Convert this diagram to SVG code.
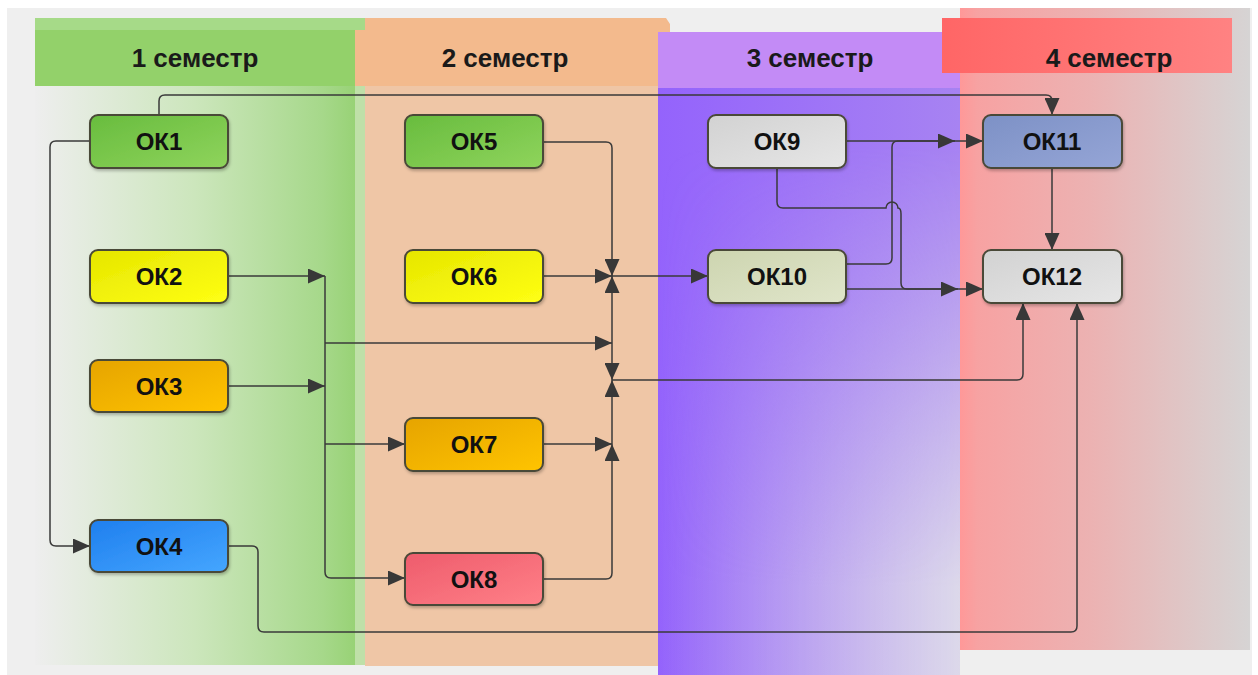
<svg xmlns="http://www.w3.org/2000/svg" width="1258" height="675" viewBox="0 0 1258 675">
<style>
.hdr{font-family:"Liberation Sans",Arial,sans-serif;font-weight:bold;font-size:26px;fill:#1a1a1a;text-anchor:middle}
.lbl{font-family:"Liberation Sans",Arial,sans-serif;font-weight:bold;font-size:24px;fill:#111;text-anchor:middle}
.box{stroke:#4a4838;stroke-width:2;filter:url(#sh)}
.c{fill:none;stroke:#3a3a3a;stroke-width:1.5}
.a{marker-end:url(#ar)}
.b{marker-start:url(#ar);marker-end:url(#ar)}
</style>
<defs>
<marker id="ar" viewBox="0 0 17 15" markerWidth="17" markerHeight="15" refX="17" refY="7.5" orient="auto-start-reverse" markerUnits="userSpaceOnUse">
<path d="M0,0 L17,7.5 L0,15 z" fill="#383838"/>
</marker>
<filter id="sh" x="-10%" y="-20%" width="130%" height="150%">
<feDropShadow dx="1" dy="2" stdDeviation="1.5" flood-color="#000" flood-opacity="0.25"/>
</filter>
<linearGradient id="g1body" x1="0" y1="0" x2="1" y2="0">
<stop offset="0" stop-color="#eeeeee"/>
<stop offset="0.5" stop-color="#cce6bc"/>
<stop offset="0.9" stop-color="#a6d88a"/>
<stop offset="1" stop-color="#98d276"/>
</linearGradient>
<linearGradient id="g3body" x1="0" y1="0" x2="1" y2="0">
<stop offset="0" stop-color="#9463fc"/>
<stop offset="1" stop-color="#a783f2"/>
</linearGradient>
<linearGradient id="g3fade" x1="0" y1="0" x2="1" y2="0">
<stop offset="0" stop-color="#dcd8ea" stop-opacity="0"/>
<stop offset="0.35" stop-color="#dcd8ea" stop-opacity="0.35"/>
<stop offset="1" stop-color="#dcd8ea" stop-opacity="1"/>
</linearGradient>
<linearGradient id="g3mask" x1="0" y1="0" x2="0" y2="1">
<stop offset="0.1" stop-color="#000"/>
<stop offset="0.85" stop-color="#fff"/>
</linearGradient>
<mask id="m3" maskUnits="userSpaceOnUse" x="658" y="86" width="302" height="589">
<rect x="658" y="86" width="302" height="589" fill="url(#g3mask)"/>
</mask>
<linearGradient id="g4body" x1="0" y1="0" x2="1" y2="0">
<stop offset="0" stop-color="#ff9898"/>
<stop offset="0.06" stop-color="#f7a2a2"/>
<stop offset="0.45" stop-color="#ecb2b2"/>
<stop offset="1" stop-color="#d6d4d4"/>
</linearGradient>
<linearGradient id="g4hdr" x1="0" y1="0" x2="1" y2="0">
<stop offset="0" stop-color="#ff6666"/>
<stop offset="1" stop-color="#ff8282"/>
</linearGradient>
<linearGradient id="ngreen" x1="0" y1="0" x2="1" y2="1">
<stop offset="0" stop-color="#68bc3e"/><stop offset="1" stop-color="#8fd45c"/>
</linearGradient>
<linearGradient id="nyellow" x1="0" y1="0" x2="1" y2="1">
<stop offset="0" stop-color="#e6e600"/><stop offset="1" stop-color="#ffff14"/>
</linearGradient>
<linearGradient id="norange" x1="0" y1="0" x2="1" y2="1">
<stop offset="0" stop-color="#e6a400"/><stop offset="1" stop-color="#ffc400"/>
</linearGradient>
<linearGradient id="nblue" x1="0" y1="0" x2="1" y2="1">
<stop offset="0" stop-color="#1f7fee"/><stop offset="1" stop-color="#45a6ff"/>
</linearGradient>
<linearGradient id="nred" x1="0" y1="0" x2="1" y2="1">
<stop offset="0" stop-color="#ee5c6c"/><stop offset="1" stop-color="#ff8088"/>
</linearGradient>
<linearGradient id="ngray" x1="0" y1="0" x2="1" y2="1">
<stop offset="0" stop-color="#d2d2d2"/><stop offset="1" stop-color="#e6e6e6"/>
</linearGradient>
<linearGradient id="nkhaki" x1="0" y1="0" x2="1" y2="1">
<stop offset="0" stop-color="#cdd5b0"/><stop offset="1" stop-color="#e0e5ca"/>
</linearGradient>
<linearGradient id="nslate" x1="0" y1="0" x2="1" y2="1">
<stop offset="0" stop-color="#7d91c6"/><stop offset="1" stop-color="#95a5d6"/>
</linearGradient>
</defs>

<rect x="0" y="0" width="1258" height="675" fill="#ffffff"/>
<rect x="7" y="8" width="1245" height="667" fill="#efefef"/>

<g id="lane1">
<rect x="35" y="86" width="320" height="579" fill="url(#g1body)"/>
<rect x="355" y="86" width="10" height="579" fill="#bfe0a8"/>
<rect x="35" y="18" width="330" height="12" fill="#a6da88"/>
<rect x="35" y="30" width="320" height="56" fill="#93d16a"/>
<text class="hdr" x="195" y="67">1 семестр</text>
</g>
<g id="lane2">
<rect x="365" y="86" width="293" height="580" fill="#efc6a6"/>
<path d="M355,30 H365 V18 H666 L670,24 V86 H355 Z" fill="#f3ba8d"/>
<text class="hdr" x="505" y="67">2 семестр</text>
</g>
<g id="lane3">
<rect x="658" y="86" width="302" height="589" fill="url(#g3body)"/>
<rect x="658" y="86" width="302" height="589" fill="url(#g3fade)" mask="url(#m3)"/>
<rect x="658" y="32" width="302" height="56" fill="#c38bf6"/>
<text class="hdr" x="810" y="67">3 семестр</text>
</g>
<g id="lane4">
<rect x="960" y="8" width="290" height="642" fill="url(#g4body)"/>
<rect x="942" y="18" width="290" height="55" fill="url(#g4hdr)"/>
<text class="hdr" x="1109" y="67">4 семестр</text>
</g>

<g id="connectors">
<path class="c a" d="M159,115 V101 Q159,95 165,95 H1046 Q1052,95 1052,101 V115"/>
<path class="c a" d="M90,141 H56 Q50,141 50,147 V540 Q50,546 56,546 H90"/>
<path class="c a" d="M228,276 H325"/>
<path class="c a" d="M228,386 H325"/>
<path class="c a" d="M325,276 V572 Q325,578 331,578 H405"/>
<path class="c a" d="M325,343 H612"/>
<path class="c a" d="M325,444 H405"/>
<path class="c a" d="M543,142 H606 Q612,142 612,148 V276"/>
<path class="c a" d="M543,276 H612"/>
<path class="c b" d="M612,276 V380"/>
<path class="c a" d="M612,380 H1017 Q1023,380 1023,374 V303"/>
<path class="c a" d="M612,444 V380"/>
<path class="c a" d="M543,444 H612"/>
<path class="c a" d="M543,579 H606 Q612,579 612,573 V444"/>
<path class="c a" d="M612,276 H708"/>
<path class="c a" d="M846,141 H955"/>
<path class="c a" d="M846,264 H886 Q892,264 892,258 V147 Q892,141 898,141 H983"/>
<path class="c a" d="M777,168 V202 Q777,208 783,208 H886 A6,6 0 0 1 898,208 Q901,208 901,214 V283 Q901,289 907,289 H958"/>
<path class="c a" d="M846,289 H983"/>
<path class="c a" d="M1052,168 V250"/>
<path class="c a" d="M228,546 H252 Q258,546 258,552 V626 Q258,632 264,632 H1071 Q1077,632 1077,626 V303"/>
</g>

<g id="OK1"><rect class="box" x="90" y="115" width="138" height="53" rx="8" fill="url(#ngreen)"/><text class="lbl" x="159" y="150">ОК1</text></g>
<g id="OK2"><rect class="box" x="90" y="250" width="138" height="53" rx="8" fill="url(#nyellow)"/><text class="lbl" x="159" y="285">ОК2</text></g>
<g id="OK3"><rect class="box" x="90" y="360" width="138" height="52" rx="8" fill="url(#norange)"/><text class="lbl" x="159" y="395">ОК3</text></g>
<g id="OK4"><rect class="box" x="90" y="520" width="138" height="52" rx="8" fill="url(#nblue)"/><text class="lbl" x="159" y="555">ОК4</text></g>
<g id="OK5"><rect class="box" x="405" y="115" width="138" height="53" rx="8" fill="url(#ngreen)"/><text class="lbl" x="474" y="150">ОК5</text></g>
<g id="OK6"><rect class="box" x="405" y="250" width="138" height="53" rx="8" fill="url(#nyellow)"/><text class="lbl" x="474" y="285">ОК6</text></g>
<g id="OK7"><rect class="box" x="405" y="418" width="138" height="53" rx="8" fill="url(#norange)"/><text class="lbl" x="474" y="453">ОК7</text></g>
<g id="OK8"><rect class="box" x="405" y="553" width="138" height="52" rx="8" fill="url(#nred)"/><text class="lbl" x="474" y="588">ОК8</text></g>
<g id="OK9"><rect class="box" x="708" y="115" width="138" height="53" rx="8" fill="url(#ngray)"/><text class="lbl" x="777" y="150">ОК9</text></g>
<g id="OK10"><rect class="box" x="708" y="250" width="138" height="53" rx="8" fill="url(#nkhaki)"/><text class="lbl" x="777" y="285">ОК10</text></g>
<g id="OK11"><rect class="box" x="983" y="115" width="139" height="53" rx="8" fill="url(#nslate)"/><text class="lbl" x="1052" y="150">ОК11</text></g>
<g id="OK12"><rect class="box" x="983" y="250" width="139" height="53" rx="8" fill="url(#ngray)"/><text class="lbl" x="1052" y="285">ОК12</text></g>
</svg>
